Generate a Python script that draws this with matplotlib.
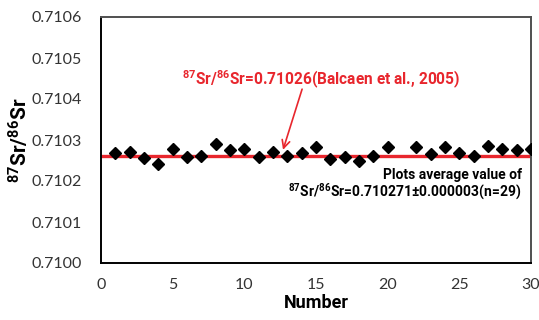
import numpy as np
import matplotlib
matplotlib.use('Agg')
import matplotlib.pyplot as plt

# measured 87Sr/86Sr ratios (point 21 missing, n=29)
number = [1, 2, 3, 4, 5, 6, 7, 8, 9, 10, 11, 12, 13, 14, 15,
          16, 17, 18, 19, 20, 22, 23, 24, 25, 26, 27, 28, 29, 30]
ratio = [0.710268, 0.710270, 0.710255, 0.710241, 0.710279, 0.710259, 0.710262,
         0.710290, 0.710276, 0.710279, 0.710259, 0.710270, 0.710262, 0.710268,
         0.710284, 0.710253, 0.710259, 0.710249, 0.710262, 0.710284, 0.710284,
         0.710266, 0.710284, 0.710269, 0.710261, 0.710286, 0.710277, 0.710275,
         0.710277]
ref_value = 0.71026
yticks = [0.7100, 0.7101, 0.7102, 0.7103, 0.7104, 0.7105, 0.7106]
xticks = [0, 5, 10, 15, 20, 25, 30]

plt.rcParams['mathtext.fontset'] = 'custom'
plt.rcParams['mathtext.rm'] = 'Roboto:bold'
plt.rcParams['mathtext.bf'] = 'Roboto:bold'

narrow = ['Roboto', 'DejaVu Sans']
tickfont = ['Lato', 'DejaVu Sans']
red = '#e8262d'
sr = r'$\mathbf{^{87}}$Sr/$\mathbf{^{86}}$Sr'

fig = plt.figure(figsize=(5.39, 3.2), dpi=100)
ax = fig.add_axes([101/539, 1 - 263/320, 430/539, 246/320])

ax.axhline(ref_value, color=red, lw=2.4, zorder=2)
ax.plot(number, ratio, 'D', color='black', ms=6, zorder=3)

ax.set_xlim(0, 30)
ax.set_ylim(0.7100, 0.7106)
ax.set_xticks(xticks)
ax.set_yticks(yticks)
ax.set_yticklabels(['%.4f' % v for v in yticks], family=tickfont, fontsize=11.5, color='#333333')
ax.set_xticklabels([str(v) for v in xticks], family=tickfont, fontsize=11.5, color='#333333')
ax.tick_params(axis='x', length=0, pad=11)
ax.tick_params(axis='y', length=0, pad=13.5)

for s in ax.spines.values():
    s.set_color('#505050')
    s.set_linewidth(1.4)
ax.spines['left'].set_color('black')
ax.spines['bottom'].set_color('black')

ax.set_xlabel('Number', family=narrow, fontsize=13, fontweight='bold', labelpad=1)
ax.set_ylabel(sr, family=narrow, fontsize=15, fontweight='bold', labelpad=0)

# reference value label with arrow
ax.text(15.39, 0.710446, sr + '=0.71026(Balcaen et al., 2005)', ha='center', va='center',
        color=red, family=narrow, fontsize=11.2, fontweight='bold')
ax.annotate('', xy=(12.7, 0.710276), xytext=(14.03, 0.710424),
            arrowprops=dict(arrowstyle='->', color=red, lw=1.2,
                            shrinkA=0, shrinkB=0, mutation_scale=14))

ax.text(29.35, 0.710215, 'Plots average value of', ha='right', va='center',
        family=narrow, fontsize=10, fontweight='bold')
ax.text(29.35, 0.710173, sr + '=0.710271\u00b10.000003(n=29)',
        ha='right', va='center', family=narrow, fontsize=10, fontweight='bold')

fig.savefig('out.png', dpi=100)
